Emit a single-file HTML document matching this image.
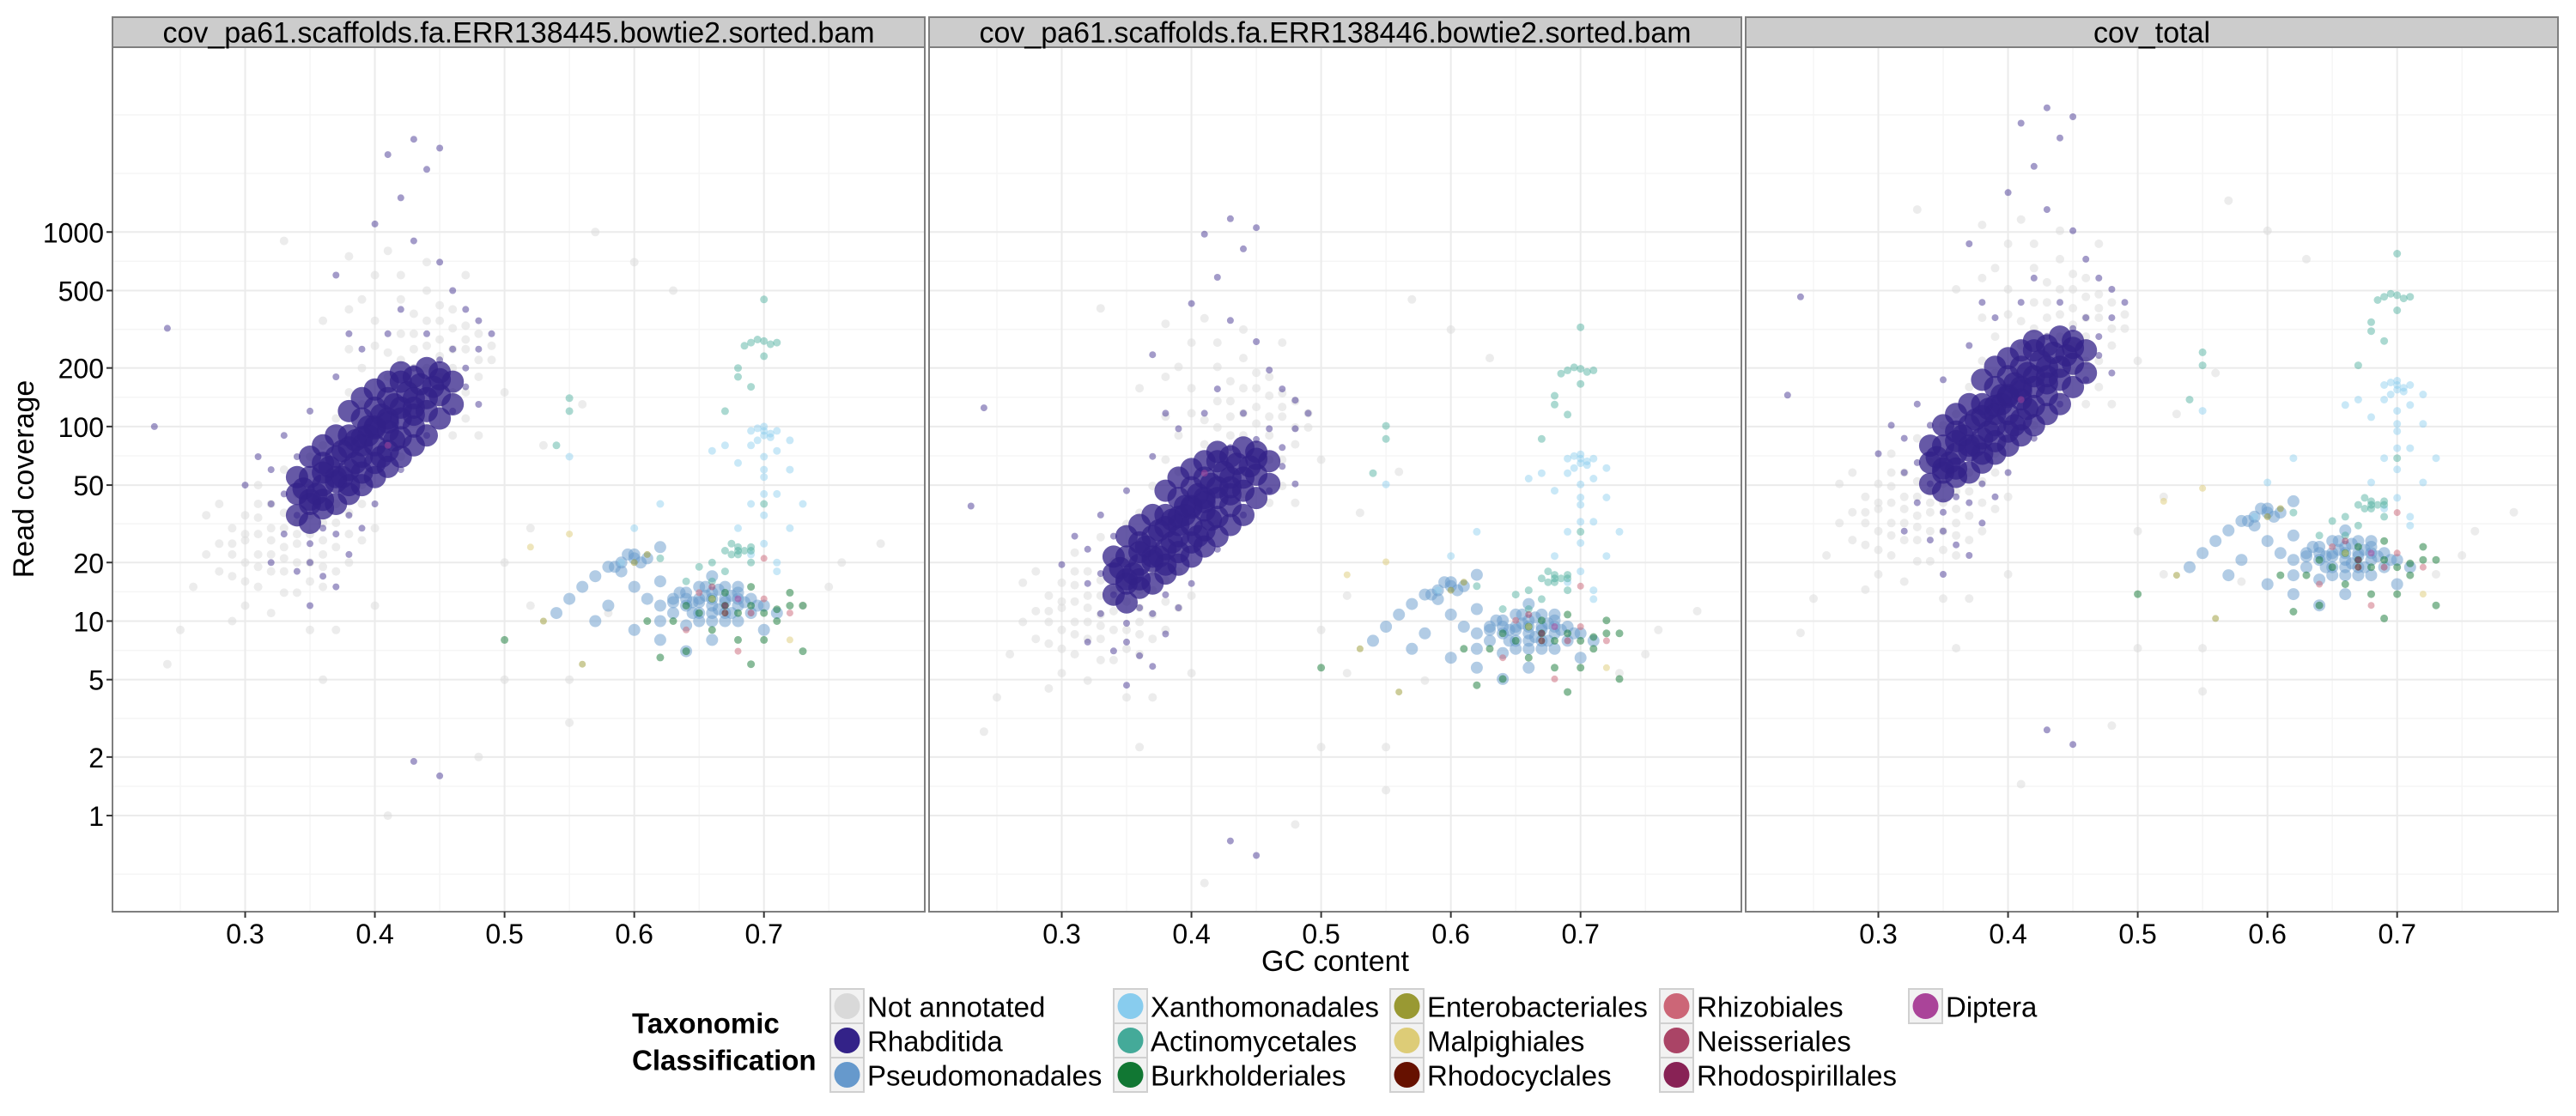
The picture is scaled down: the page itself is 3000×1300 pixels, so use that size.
<!DOCTYPE html>
<html><head><meta charset="utf-8">
<style>
html,body{margin:0;padding:0;background:#fff;}
svg{display:block;font-family:"Liberation Sans",sans-serif;}
</style></head>
<body>
<svg id="chart" width="3000" height="1300" viewBox="0 0 3000 1300" xmlns="http://www.w3.org/2000/svg">
<rect x="0" y="0" width="3000" height="1300" fill="#fff"/>
<g id="panels"></g>
<text x="28" y="558" transform="rotate(-90 28 558)" text-anchor="middle" dominant-baseline="central" font-size="34">Read coverage</text>
<text x="1555" y="1120" text-anchor="middle" dominant-baseline="central" font-size="34">GC content</text>
<g id="legend"></g>
</svg>
<script>
const panelTitles = ["cov_pa61.scaffolds.fa.ERR138445.bowtie2.sorted.bam","cov_pa61.scaffolds.fa.ERR138446.bowtie2.sorted.bam","cov_total"];
const xTicks = [0.3,0.4,0.5,0.6,0.7];
const yTicks = [1,2,5,10,20,50,100,200,500,1000];
const categories = ["Not annotated","Rhabditida","Pseudomonadales","Xanthomonadales","Actinomycetales","Burkholderiales","Enterobacteriales","Malpighiales","Rhodocyclales","Rhizobiales","Neisseriales","Rhodospirillales","Diptera"];
const catColors = ["#d9d9d9","#332288","#6699cc","#88ccee","#44aa99","#117733","#999933","#ddcc77","#661100","#cc6677","#aa4466","#882255","#aa4499"];
// per-sample relative depth for each group [sample445, sample446, total]
const depthGrey = [1,0.45,1.45];
const depthNematode = [1,0.39,1.45];
const depthBacteria = [1,0.72,1.72];
// [gc, coverage in sample 445]
const rhabCore = [[0.37,55],[0.38,60],[0.39,70],[0.40,80],[0.41,95],[0.42,110],[0.43,125],[0.44,140],[0.36,50],[0.375,75],[0.385,85],[0.395,100],[0.405,115],[0.415,130],[0.425,150],[0.38,50],[0.39,58],[0.40,65],[0.41,75],[0.42,88],[0.43,100],[0.365,62],[0.37,70],[0.38,90],[0.39,110],[0.40,125],[0.41,140],[0.355,45],[0.35,40],[0.36,42],[0.445,160],[0.45,175],[0.435,165],[0.42,170],[0.40,100],[0.39,80],[0.41,105],[0.395,90],[0.405,70],[0.385,65],[0.415,85],[0.43,115],[0.375,55],[0.36,58],[0.44,120],[0.345,48],[0.35,55],
[0.34,35],[0.34,45],[0.34,55],[0.35,32],[0.35,42],[0.35,70],[0.36,38],[0.36,65],[0.36,80],[0.37,40],[0.37,52],[0.37,90],[0.38,45],[0.38,78],[0.38,120],[0.39,50],[0.39,88],[0.39,140],[0.40,55],[0.40,98],[0.40,155],[0.41,62],[0.41,110],[0.41,170],[0.42,70],[0.42,125],[0.42,190],[0.43,80],[0.43,140],[0.43,180],[0.44,90],[0.44,200],[0.45,110],[0.45,145],[0.45,190],[0.46,130],[0.46,170]];
const rhabScatter = [[0.33,45],[0.34,35],[0.36,30],[0.37,28],[0.35,25],[0.38,22],[0.39,30],[0.32,60],[0.30,50],[0.31,70],[0.33,90],[0.35,120],[0.37,180],[0.39,250],[0.41,300],[0.43,200],[0.46,250],[0.47,160],[0.48,350],[0.46,120],[0.44,90],[0.42,60],[0.40,40],[0.38,35],[0.34,18],[0.36,17],[0.32,20],[0.45,700],[0.43,900],[0.40,1100],[0.41,2500],[0.43,3000],[0.44,2100],[0.45,2700],[0.42,1500],[0.37,600],[0.24,320],[0.23,100],[0.43,1.9],[0.45,1.6],[0.46,500],[0.49,300],[0.48,130],[0.37,15],[0.35,12],[0.47,400],[0.45,220],[0.34,70],[0.47,200],[0.33,28],[0.35,20],[0.32,40],[0.48,250],[0.44,300],[0.42,400],[0.38,300]];
const notAnnotated = [[0.28,25],[0.29,30],[0.30,20],[0.30,35],[0.31,15],[0.31,28],[0.32,40],[0.32,22],[0.33,18],[0.33,30],[0.34,25],[0.34,14],[0.35,20],[0.35,35],[0.36,22],[0.36,15],[0.37,18],[0.37,40],[0.38,28],[0.30,12],[0.29,17],[0.27,22],[0.26,15],[0.28,40],[0.31,50],[0.33,60],[0.36,80],[0.37,110],[0.38,150],[0.39,200],[0.40,260],[0.42,300],[0.44,350],[0.45,280],[0.46,320],[0.47,250],[0.48,300],[0.49,220],[0.46,400],[0.44,500],[0.42,450],[0.40,600],[0.38,400],[0.47,600],[0.43,200],[0.45,180],[0.48,180],[0.50,150],[0.44,130],[0.46,90],[0.42,70],[0.39,50],[0.35,70],[0.38,750],[0.41,800],[0.33,900],[0.29,10],[0.32,11],[0.25,9],[0.24,6],[0.36,5],[0.41,1],[0.52,30],[0.55,5],[0.50,5],[0.55,3],[0.53,80],[0.56,130],[0.60,700],[0.63,500],[0.57,1000],[0.48,2],[0.50,20],[0.52,12],[0.58,11],[0.73,12],[0.75,15],[0.76,20],[0.79,25],[0.27,35],[0.34,45],[0.39,130],[0.41,180],[0.43,250],[0.37,9],[0.35,9],[0.40,12],[0.32,30],[0.34,32],[0.30,26],[0.33,24],[0.36,26],[0.31,22],[0.45,230],[0.47,330],[0.43,380],
[0.29,22],[0.30,28],[0.31,34],[0.32,18],[0.32,26],[0.33,14],[0.33,21],[0.33,36],[0.34,20],[0.34,28],[0.35,16],[0.35,28],[0.36,19],[0.36,32],[0.37,24],[0.37,32],[0.38,20],[0.38,36],[0.39,26],[0.39,40],[0.40,30],[0.30,16],[0.31,19],[0.28,18],[0.29,25],[0.31,40],[0.35,45],[0.36,55],[0.44,200],[0.45,350],[0.46,250],[0.47,280],[0.48,220],[0.43,300],[0.44,260],[0.45,420],[0.46,200],[0.49,260],[0.42,220],[0.41,240],[0.47,150],[0.46,150],[0.45,130],[0.43,160],[0.44,100],[0.47,110],[0.48,90],[0.40,350],[0.39,450],[0.42,600],[0.44,700],[0.36,350],[0.38,250]];
const pseudomonadales = [[0.62,12],[0.63,13],[0.64,12],[0.65,13],[0.66,12],[0.67,13],[0.68,12],[0.69,13],[0.64,14],[0.65,15],[0.66,14],[0.67,15],[0.68,14],[0.63,11],[0.65,11],[0.67,11],[0.69,11],[0.66,10],[0.64,9.5],[0.68,10],[0.70,12],[0.71,11],[0.61,13],[0.60,15],[0.59,20],[0.60,22],[0.61,21],[0.58,19],[0.57,17],[0.56,15],[0.55,13],[0.54,11],[0.59,18],[0.62,24],[0.60,9],[0.62,8],[0.64,7],[0.66,8],[0.70,9],[0.58,12],[0.57,10],[0.66,17],[0.62,16],[0.66,13],[0.65,12.5],[0.67,12.5],[0.68,15],[0.655,13.5],[0.665,11.5],[0.645,12.5],[0.675,13.5],
[0.63,12.5],[0.635,14],[0.645,11],[0.655,15],[0.665,14.5],[0.675,11],[0.685,12.5],[0.695,12],[0.66,11],[0.65,10],[0.67,10],[0.64,13],[0.68,13],[0.62,10],[0.60,21],[0.595,22],[0.605,20],[0.585,19]];
const xanthomonadales = [[0.69,95],[0.70,100],[0.71,95],[0.70,90],[0.695,85],[0.705,88],[0.69,80],[0.71,75],[0.70,70],[0.72,60],[0.68,65],[0.70,55],[0.71,45],[0.69,40],[0.70,35],[0.72,30],[0.68,30],[0.66,75],[0.67,80],[0.72,85],[0.73,40],[0.70,25],[0.71,20],[0.69,22],[0.60,30],[0.62,40],[0.55,70],[0.59,20],[0.71,18],[0.70,95],[0.695,98],[0.705,92],[0.70,60],[0.70,45]];
const actinomycetales = [[0.69,270],[0.70,275],[0.705,265],[0.695,280],[0.71,270],[0.685,260],[0.70,230],[0.68,200],[0.68,180],[0.69,160],[0.67,120],[0.67,23],[0.68,24],[0.69,23],[0.68,22],[0.675,25],[0.685,23],[0.66,20],[0.65,19],[0.64,16],[0.66,16],[0.67,18],[0.69,20],[0.55,140],[0.55,120],[0.54,80],[0.70,450],[0.70,40],[0.62,21],[0.68,23],[0.69,24],[0.675,22]];
const burkholderiales = [[0.64,12],[0.65,11],[0.66,13],[0.67,12],[0.68,11],[0.69,12],[0.70,11],[0.71,10],[0.72,12],[0.73,12],[0.66,9],[0.68,8],[0.70,8],[0.64,7],[0.67,14],[0.69,15],[0.63,10],[0.72,14],[0.61,10],[0.62,6.5],[0.69,6],[0.50,8],[0.73,7],[0.71,11.5]];
const enterobacteriales = [[0.53,10],[0.56,6],[0.61,22],[0.60,20]];
const malpighiales = [[0.52,24],[0.66,13],[0.72,8],[0.55,28]];
const rhodocyclales = [[0.67,11]];
const rhizobiales = [[0.65,14],[0.70,13],[0.70,21],[0.72,11],[0.64,9],[0.68,7]];
const neisseriales = [[0.69,11],[0.66,15]];
const rhodospirillales = [[0.67,12]];
const diptera = [[0.41,80],[0.68,13]];

const NS = "http://www.w3.org/2000/svg";
const panelLeft = [131, 1082, 2033];
const panelW = 946, plotTop = 55, plotBottom = 1062, stripTop = 20;
const xMin = 0.1977, xMax = 0.824;
const logMin = -0.494, logMax = 3.95;
function xScale(p, gc){ return panelLeft[p] + (gc - xMin) / (xMax - xMin) * panelW; }
function yScale(v){ return plotBottom - (Math.log10(v) - logMin) / (logMax - logMin) * (plotBottom - plotTop); }
function mk(tag, attrs, parent){ const e=document.createElementNS(NS,tag); for(const k in attrs) e.setAttribute(k,attrs[k]); parent.appendChild(e); return e; }

const series = [
  {pts:notAnnotated, cat:0, depth:depthGrey, r:5, op:0.5},
  {pts:rhabScatter, cat:1, depth:depthNematode, r:4, op:0.45},
  {pts:rhabCore, cat:1, depth:depthNematode, r:13, op:0.75},
  {pts:pseudomonadales, cat:2, depth:depthBacteria, r:7, op:0.5},
  {pts:xanthomonadales, cat:3, depth:depthBacteria, r:4.5, op:0.45},
  {pts:actinomycetales, cat:4, depth:depthBacteria, r:4.5, op:0.45},
  {pts:burkholderiales, cat:5, depth:depthBacteria, r:4.5, op:0.5},
  {pts:enterobacteriales, cat:6, depth:depthBacteria, r:4, op:0.5},
  {pts:malpighiales, cat:7, depth:depthBacteria, r:4, op:0.5},
  {pts:rhodocyclales, cat:8, depth:depthBacteria, r:4, op:0.5},
  {pts:rhizobiales, cat:9, depth:depthBacteria, r:4, op:0.5},
  {pts:neisseriales, cat:10, depth:depthBacteria, r:4, op:0.5},
  {pts:rhodospirillales, cat:11, depth:depthBacteria, r:4, op:0.5},
  {pts:diptera, cat:12, depth:depthBacteria, r:4, op:0.5}
];

const panels = document.getElementById('panels');
for (let p=0; p<3; p++){
  const g = mk('g',{},panels);
  
  
  const L = panelLeft[p];
  const minorX = [0.25,0.35,0.45,0.55,0.65,0.75];
  minorX.forEach(v=>{ const l=mk('line',{x1:xScale(p,v),x2:xScale(p,v),y1:plotTop,y2:plotBottom,stroke:'#f5f5f5','stroke-width':1.5},g);
      });
  for (let i=0;i<yTicks.length-1;i++){ const ym=(yScale(yTicks[i])+yScale(yTicks[i+1]))/2;
    const l=mk('line',{x1:L,x2:L+panelW,y1:ym,y2:ym,stroke:'#f5f5f5','stroke-width':1.5},g);
      }
  [yScale(1)+(yScale(0.5)-yScale(1)), yScale(1000)-(yScale(500)-yScale(1000)), yScale(1000)-2*(yScale(500)-yScale(1000))].forEach(ym=>{
    const l=mk('line',{x1:L,x2:L+panelW,y1:ym,y2:ym,stroke:'#f5f5f5','stroke-width':1.5},g);
      });
  xTicks.forEach(v=>{ const l=mk('line',{x1:xScale(p,v),x2:xScale(p,v),y1:plotTop,y2:plotBottom,stroke:'#ebebeb','stroke-width':2},g);
      });
  yTicks.forEach(v=>{ const l=mk('line',{x1:L,x2:L+panelW,y1:yScale(v),y2:yScale(v),stroke:'#ebebeb','stroke-width':2},g);
      });
  series.forEach(s=>{
    s.pts.forEach(pt=>{
      const c = mk('circle',{cx:xScale(p,pt[0]).toFixed(1), cy:yScale(pt[1]*s.depth[p]).toFixed(1), r:s.r, fill:catColors[s.cat], 'fill-opacity':s.op},g);
      
      
    });
  });
  const b = mk('rect',{x:L,y:plotTop,width:panelW,height:plotBottom-plotTop,fill:'none',stroke:'#7f7f7f','stroke-width':2},g);
   
  const st = mk('rect',{x:L,y:stripTop,width:panelW,height:plotTop-stripTop,fill:'#cccccc',stroke:'#7f7f7f','stroke-width':2},g);
   
  const tt = mk('text',{x:L+panelW/2,y:(stripTop+plotTop)/2+1,'text-anchor':'middle','dominant-baseline':'central','font-size':34},g);
  tt.textContent = panelTitles[p];
   
  xTicks.forEach(v=>{
    const x=xScale(p,v);
    const t=mk('line',{x1:x,x2:x,y1:plotBottom,y2:plotBottom+7,stroke:'#333','stroke-width':2},g);
     
    const lb=mk('text',{x:x,y:plotBottom+26,'text-anchor':'middle','dominant-baseline':'central','font-size':32},g);
    lb.textContent=String(v);
     
  });
  if (p===0){
    yTicks.forEach(v=>{
      const y=yScale(v);
      const t=mk('line',{x1:L-7,x2:L,y1:y,y2:y,stroke:'#333','stroke-width':2},g);
       
      const lb=mk('text',{x:L-10,y:y+1,'text-anchor':'end','dominant-baseline':'central','font-size':32},g);
      lb.textContent=String(v);
       
    });
  }
}
const lg = document.getElementById('legend');
const lt1 = mk('text',{x:736,y:1192,'dominant-baseline':'central','font-size':33,'font-weight':'bold'},lg);
lt1.textContent='Taxonomic';
 
const lt2 = mk('text',{x:736,y:1235,'dominant-baseline':'central','font-size':33,'font-weight':'bold'},lg);
lt2.textContent='Classification';
 
const colX = [967,1297,1619,1933,2223];
const rowY = [1172,1212,1252];
categories.forEach((c,i)=>{
  const col=Math.floor(i/3), row=i%3;
  const g=mk('g',{},lg);
   
  const kx=colX[col], ky=rowY[row];
  mk('rect',{x:kx,y:ky-20,width:39,height:40,fill:'#f2f2f2',stroke:'#d0d0d0','stroke-width':2},g);
  mk('circle',{cx:kx+19.5,cy:ky,r:15,fill:catColors[i]},g);
  const t=mk('text',{x:kx+43,y:ky+1,'dominant-baseline':'central','font-size':33},g);
  t.textContent=c;
});
</script>
</body></html>
